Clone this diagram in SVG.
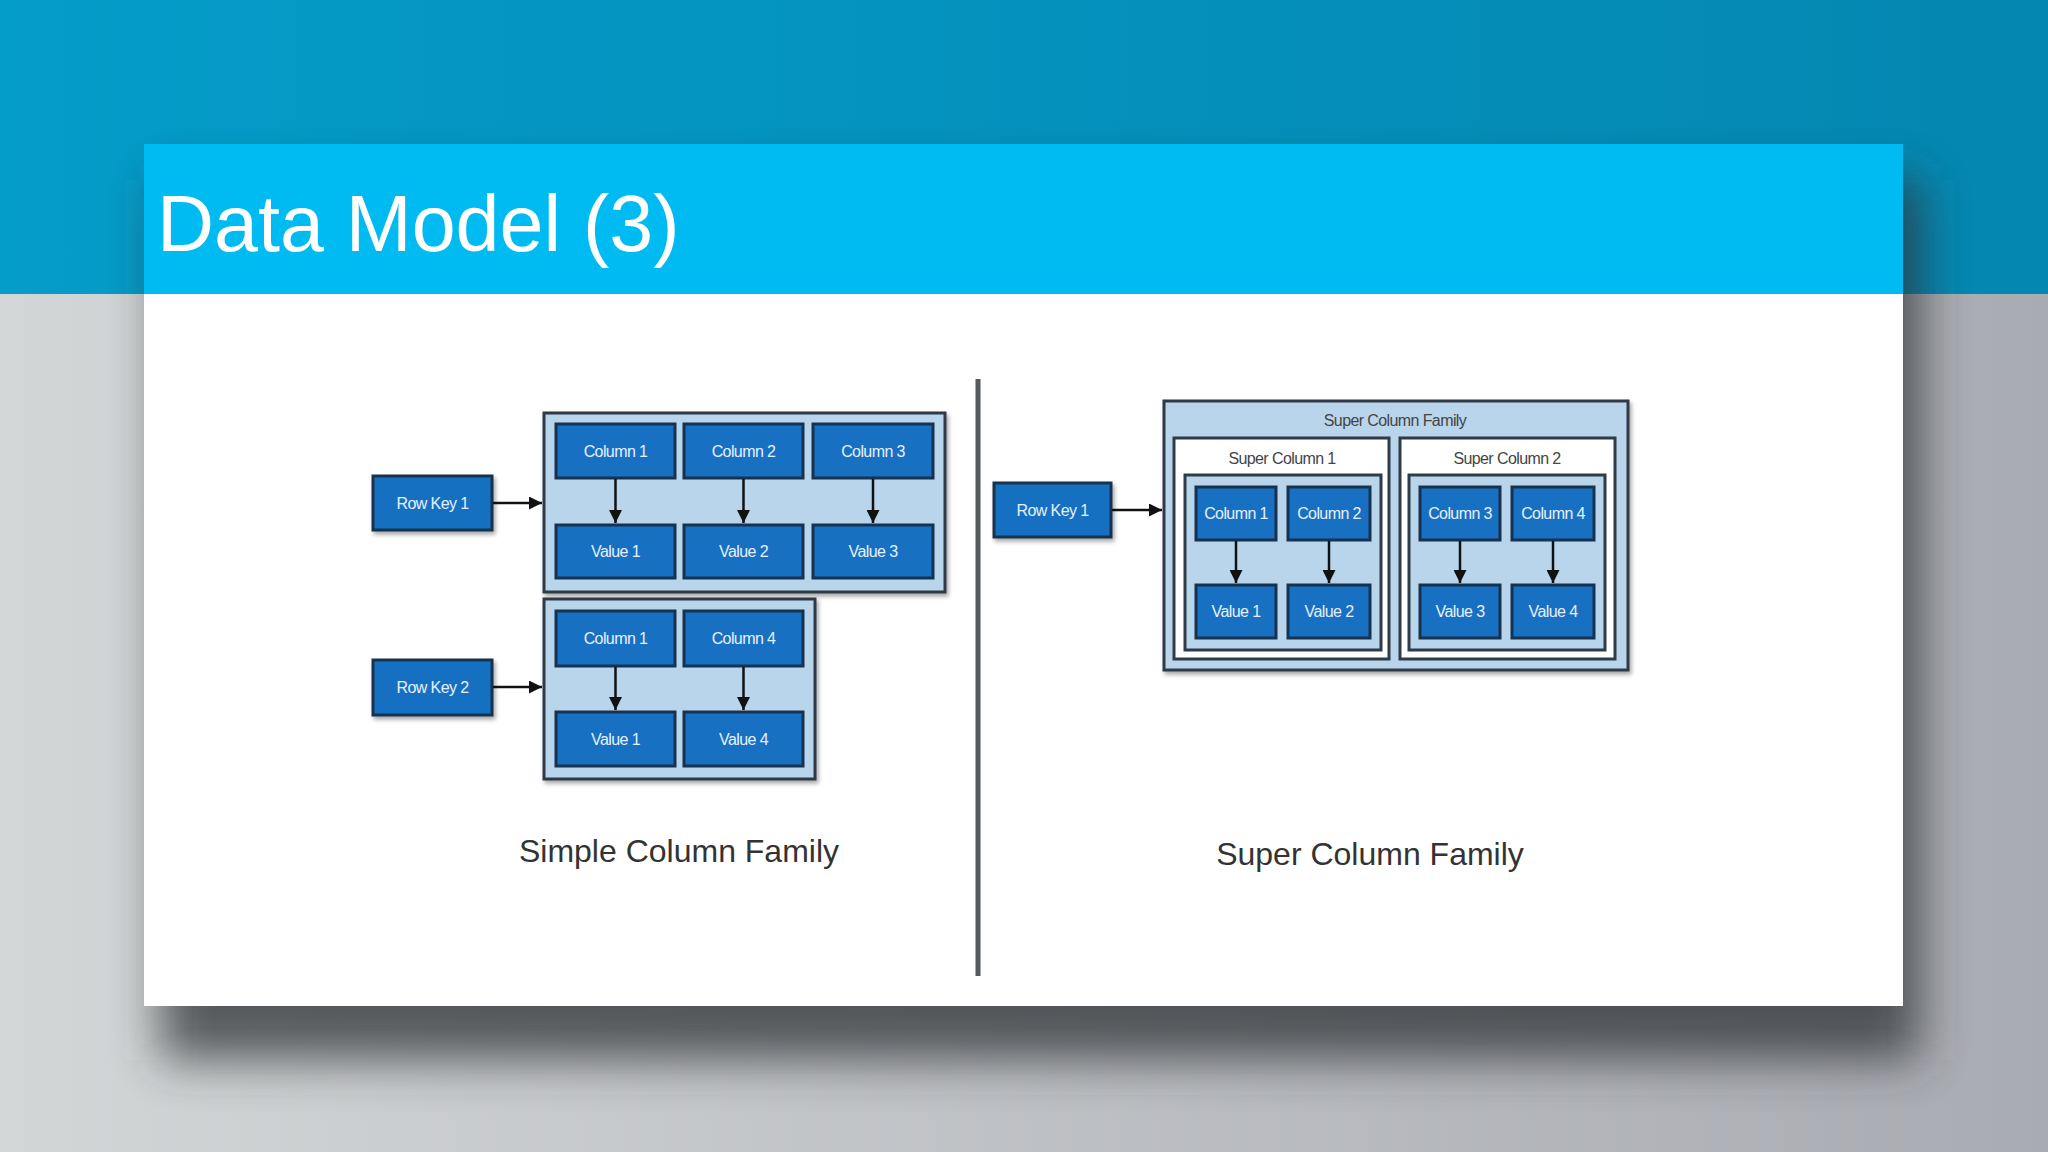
<svg xmlns="http://www.w3.org/2000/svg" width="2048" height="1152" viewBox="0 0 2048 1152">
  <defs>
    <linearGradient id="teal" x1="0" y1="0" x2="1" y2="0">
      <stop offset="0" stop-color="#049cc9"/>
      <stop offset="1" stop-color="#0487b1"/>
    </linearGradient>
    <linearGradient id="grey" x1="0" y1="0" x2="1" y2="0">
      <stop offset="0" stop-color="#d3d6d7"/>
      <stop offset="1" stop-color="#a9abb2"/>
    </linearGradient>
    <filter id="panelShadow" x="-10%" y="-10%" width="120%" height="130%">
      <feGaussianBlur stdDeviation="24"/>
    </filter>
    <filter id="ds" x="-10%" y="-10%" width="130%" height="140%">
      <feDropShadow dx="2" dy="3" stdDeviation="2" flood-color="#000" flood-opacity="0.35"/>
    </filter>
    <marker id="ah" viewBox="0 0 10 10" refX="10" refY="5" markerWidth="13" markerHeight="13" markerUnits="userSpaceOnUse" orient="auto">
      <path d="M0,0 L10,5 L0,10 z" fill="#111"/>
    </marker>
    <style>
      .box { fill: #1870c2; stroke: #16324e; stroke-width: 3; }
      .cont { fill: #b9d5ec; stroke: #2f3b46; stroke-width: 3; }
      .sc { fill: #ffffff; stroke: #2f3b46; stroke-width: 3; }
      .lbl { font-family: "Liberation Sans", Arial, sans-serif; font-size: 16px; letter-spacing: -0.6px; fill: #e6f0fa; text-anchor: middle; }
      .dlbl { font-family: "Liberation Sans", Arial, sans-serif; font-size: 16px; letter-spacing: -0.6px; fill: #444; text-anchor: middle; }
      .cap { font-family: "Liberation Sans", Arial, sans-serif; font-size: 32px; fill: #333; text-anchor: middle; }
      .conn { stroke: #111; stroke-width: 2.5; fill: none; }
    </style>
  </defs>

  <!-- background -->
  <rect x="0" y="0" width="2048" height="294" fill="url(#teal)"/>
  <rect x="0" y="294" width="2048" height="858" fill="url(#grey)"/>

  <!-- panel shadow -->
  <rect x="160" y="180" width="1760" height="880" fill="#2e3134" opacity="0.75" filter="url(#panelShadow)"/>

  <!-- panel -->
  <rect x="144" y="294" width="1759" height="712" fill="#ffffff"/>
  <rect x="144" y="144" width="1759" height="150" fill="#00bbf2"/>
  <text x="157" y="251" font-family="'Liberation Sans', Arial, sans-serif" font-size="79" fill="#ffffff">Data Model (3)</text>

  <!-- divider -->
  <line x1="978" y1="379" x2="978" y2="976" stroke="#555a5c" stroke-width="5"/>

  <!-- LEFT: Simple Column Family -->
  <g id="cf1">
    <rect class="cont" x="544" y="413" width="401" height="179" filter="url(#ds)"/>
  </g>
  <g id="cf2">
    <rect class="cont" x="544" y="599" width="271" height="180" filter="url(#ds)"/>
  </g>
  <g id="rk1"><rect class="box" x="373" y="476" width="119" height="54" filter="url(#ds)"/><text class="lbl" x="432.5" y="509">Row Key 1</text></g>
  <g id="rk2"><rect class="box" x="373" y="660" width="119" height="55" filter="url(#ds)"/><text class="lbl" x="432.5" y="693">Row Key 2</text></g>

  <g id="l-c1"><rect class="box" x="556" y="424" width="119" height="54"/><text class="lbl" x="615.5" y="457">Column 1</text></g>
  <g id="l-c2"><rect class="box" x="684" y="424" width="119" height="54"/><text class="lbl" x="743.5" y="457">Column 2</text></g>
  <g id="l-c3"><rect class="box" x="813" y="424" width="120" height="54"/><text class="lbl" x="873" y="457">Column 3</text></g>
  <g id="l-v1"><rect class="box" x="556" y="525" width="119" height="53"/><text class="lbl" x="615.5" y="557">Value 1</text></g>
  <g id="l-v2"><rect class="box" x="684" y="525" width="119" height="53"/><text class="lbl" x="743.5" y="557">Value 2</text></g>
  <g id="l-v3"><rect class="box" x="813" y="525" width="120" height="53"/><text class="lbl" x="873" y="557">Value 3</text></g>

  <g id="l2-c1"><rect class="box" x="556" y="611" width="119" height="55"/><text class="lbl" x="615.5" y="644">Column 1</text></g>
  <g id="l2-c4"><rect class="box" x="684" y="611" width="119" height="55"/><text class="lbl" x="743.5" y="644">Column 4</text></g>
  <g id="l2-v1"><rect class="box" x="556" y="712" width="119" height="54"/><text class="lbl" x="615.5" y="745">Value 1</text></g>
  <g id="l2-v4"><rect class="box" x="684" y="712" width="119" height="54"/><text class="lbl" x="743.5" y="745">Value 4</text></g>

  <text class="cap" x="679" y="862">Simple Column Family</text>

  <!-- RIGHT: Super Column Family -->
  <g id="scf">
    <rect class="cont" x="1164" y="401" width="464" height="269" filter="url(#ds)"/>
    <text class="dlbl" x="1395" y="426">Super Column Family</text>
  </g>
  <g id="sc1">
    <rect class="sc" x="1174" y="438" width="215" height="221"/>
    <text class="dlbl" x="1282" y="464">Super Column 1</text>
    <rect class="cont" x="1185" y="475" width="196" height="175"/>
  </g>
  <g id="sc2">
    <rect class="sc" x="1400" y="438" width="215" height="221"/>
    <text class="dlbl" x="1507" y="464">Super Column 2</text>
    <rect class="cont" x="1409" y="475" width="196" height="175"/>
  </g>
  <g id="r-rk1"><rect class="box" x="994" y="483" width="117" height="54" filter="url(#ds)"/><text class="lbl" x="1052.5" y="516">Row Key 1</text></g>

  <g id="r-c1"><rect class="box" x="1196" y="487" width="80" height="53"/><text class="lbl" x="1236" y="519">Column 1</text></g>
  <g id="r-c2"><rect class="box" x="1288" y="487" width="82" height="53"/><text class="lbl" x="1329" y="519">Column 2</text></g>
  <g id="r-c3"><rect class="box" x="1420" y="487" width="80" height="53"/><text class="lbl" x="1460" y="519">Column 3</text></g>
  <g id="r-c4"><rect class="box" x="1512" y="487" width="82" height="53"/><text class="lbl" x="1553" y="519">Column 4</text></g>
  <g id="r-v1"><rect class="box" x="1196" y="585" width="80" height="53"/><text class="lbl" x="1236" y="617">Value 1</text></g>
  <g id="r-v2"><rect class="box" x="1288" y="585" width="82" height="53"/><text class="lbl" x="1329" y="617">Value 2</text></g>
  <g id="r-v3"><rect class="box" x="1420" y="585" width="80" height="53"/><text class="lbl" x="1460" y="617">Value 3</text></g>
  <g id="r-v4"><rect class="box" x="1512" y="585" width="82" height="53"/><text class="lbl" x="1553" y="617">Value 4</text></g>

  <text class="cap" x="1370" y="865">Super Column Family</text>

  <!-- connectors -->
  <g id="connectors">
    <line class="conn" x1="493" y1="503" x2="542" y2="503" marker-end="url(#ah)"/>
    <line class="conn" x1="493" y1="687" x2="542" y2="687" marker-end="url(#ah)"/>
    <line class="conn" x1="615.5" y1="479" x2="615.5" y2="523" marker-end="url(#ah)"/>
    <line class="conn" x1="743.5" y1="479" x2="743.5" y2="523" marker-end="url(#ah)"/>
    <line class="conn" x1="873" y1="479" x2="873" y2="523" marker-end="url(#ah)"/>
    <line class="conn" x1="615.5" y1="667" x2="615.5" y2="710" marker-end="url(#ah)"/>
    <line class="conn" x1="743.5" y1="667" x2="743.5" y2="710" marker-end="url(#ah)"/>
    <line class="conn" x1="1112" y1="510" x2="1162" y2="510" marker-end="url(#ah)"/>
    <line class="conn" x1="1236" y1="541" x2="1236" y2="583" marker-end="url(#ah)"/>
    <line class="conn" x1="1329" y1="541" x2="1329" y2="583" marker-end="url(#ah)"/>
    <line class="conn" x1="1460" y1="541" x2="1460" y2="583" marker-end="url(#ah)"/>
    <line class="conn" x1="1553" y1="541" x2="1553" y2="583" marker-end="url(#ah)"/>
  </g>
</svg>
